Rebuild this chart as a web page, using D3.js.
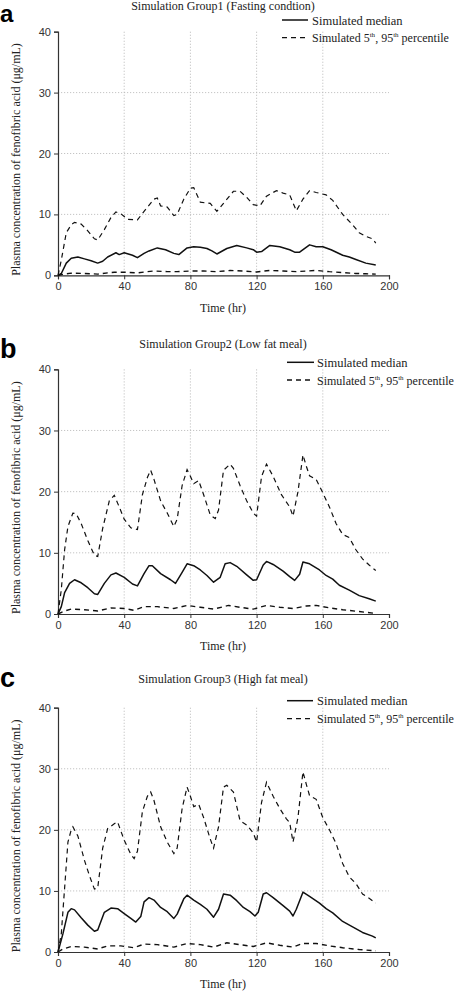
<!DOCTYPE html>
<html><head><meta charset="utf-8">
<script src="https://cdn.jsdelivr.net/npm/d3@7"></script>
<style>
html,body{margin:0;padding:0;background:#fff;}
svg{display:block;}
</style></head>
<body>
<svg id="chart" width="457" height="992"></svg>
<script>
// ---------- DATA ----------
const panelLabels = ["a", "b", "c"];
const panelTitles = [
  "Simulation Group1 (Fasting condtion)",
  "Simulation Group2 (Low fat meal)",
  "Simulation Group3 (High fat meal)"
];
const xTicks = [0, 40, 80, 120, 160, 200];
const yTicks = [0, 10, 20, 30, 40];
const xLabel = "Time (hr)";
const yLabel = "Plasma concentration of fenofibric acid (\u03bcg/mL)";
const legendMedian = "Simulated median";

// Group 1 (fasting) — [time hr, concentration]
const g1Median = [[0,0],[2,0.3],[5,2.0],[8,2.8],[12,3.0],[16,2.7],[20,2.4],[24,2.0],[27,2.3],[30,3.0],[35,3.7],[37,3.4],[40,3.7],[45,3.3],[48,2.9],[52,3.6],[55,4.0],[60,4.5],[65,4.2],[70,3.6],[73,3.4],[78,4.5],[82,4.7],[86,4.6],[90,4.4],[93,4.0],[96,3.5],[102,4.4],[108,4.9],[114,4.5],[118,4.2],[120,3.8],[123,3.9],[128,4.9],[134,4.7],[140,4.2],[143,3.8],[146,3.8],[152,5.0],[156,4.7],[160,4.7],[165,4.2],[172,3.3],[176,3.0],[180,2.6],[186,2.0],[192,1.7]];
const g1P95 = [[0,0],[2,2.5],[5,7.0],[8,8.3],[10,8.7],[14,8.4],[18,7.3],[22,6.0],[24,5.8],[28,7.5],[32,9.5],[35,10.4],[38,10.1],[42,9.2],[48,9.1],[52,10.5],[58,12.5],[60,12.7],[62,11.4],[66,11.2],[70,9.8],[72,10.0],[76,12.5],[80,14.3],[82,14.4],[86,12.0],[92,11.8],[96,10.5],[100,11.8],[106,13.8],[110,13.8],[114,12.8],[118,11.6],[122,11.4],[126,13.0],[132,13.9],[136,13.5],[140,13.2],[144,10.6],[148,12.5],[152,13.9],[156,13.6],[162,13.2],[166,12.3],[172,10.0],[178,8.3],[182,7.0],[186,6.4],[190,6.0],[192,5.3]];
const g1P5 = [[0,0],[4,0.2],[8,0.35],[16,0.3],[24,0.2],[30,0.4],[34,0.5],[40,0.5],[48,0.4],[54,0.6],[58,0.7],[66,0.6],[72,0.6],[80,0.7],[88,0.7],[96,0.6],[104,0.8],[112,0.7],[120,0.55],[128,0.8],[136,0.7],[144,0.6],[150,0.7],[156,0.8],[164,0.6],[172,0.45],[180,0.3],[186,0.25],[192,0.2]];

// Group 2 (low fat meal)
const g2Median = [[0,0],[2,1.2],[4,3.5],[7,5.0],[10,5.6],[14,5.1],[18,4.3],[22,3.3],[24,3.2],[28,5.0],[32,6.4],[35,6.7],[40,6.0],[45,4.9],[48,4.6],[52,6.6],[55,7.9],[57,7.9],[62,6.6],[68,5.6],[71,5.0],[75,6.8],[78,8.2],[82,7.9],[86,7.2],[90,6.3],[94,5.2],[98,6.0],[101,8.2],[104,8.4],[108,7.8],[114,6.4],[118,5.5],[120,5.6],[124,8.0],[126,8.6],[130,8.1],[136,7.0],[140,6.1],[143,5.5],[146,6.5],[148,8.5],[152,8.2],[158,7.2],[162,6.3],[166,5.7],[170,4.7],[176,3.9],[182,3.0],[188,2.5],[192,2.1]];
const g2P95 = [[0,0],[2,4.0],[4,10.5],[6,14.3],[9,16.5],[11,16.4],[14,14.8],[18,12.0],[22,9.6],[24,9.4],[27,14.0],[31,18.5],[34,19.4],[37,17.5],[40,15.5],[44,14.1],[48,13.8],[51,19.5],[54,22.3],[56,23.5],[58,22.0],[62,18.5],[66,16.5],[70,14.3],[72,15.5],[75,21.0],[78,23.6],[80,22.5],[82,21.3],[85,21.8],[88,19.5],[92,16.2],[95,15.6],[97,17.0],[100,23.5],[104,24.5],[106,23.8],[110,21.0],[114,18.5],[118,16.5],[120,16.0],[123,22.5],[126,24.5],[130,22.5],[135,19.5],[140,17.5],[142,16.0],[145,20.0],[148,26.0],[150,24.2],[152,22.6],[156,22.0],[160,19.8],[164,17.5],[168,14.8],[172,13.0],[176,12.5],[180,10.5],[184,9.0],[188,8.0],[192,7.1]];
const g2P5 = [[0,0],[4,0.5],[8,0.8],[16,0.7],[24,0.5],[32,1.0],[40,0.9],[46,0.6],[52,1.2],[60,1.2],[70,0.9],[78,1.4],[86,1.1],[94,0.8],[103,1.4],[110,1.1],[118,0.8],[126,1.4],[134,1.1],[142,0.9],[150,1.3],[156,1.4],[164,1.0],[172,0.7],[182,0.4],[192,0.1]];

// Group 3 (high fat meal)
const g3Median = [[0,0],[3,3.0],[6,6.5],[8,7.1],[10,6.9],[14,5.6],[18,4.4],[22,3.4],[24,3.6],[28,6.5],[32,7.2],[36,7.1],[40,6.3],[44,5.5],[47,4.9],[50,5.8],[52,8.2],[55,8.9],[58,8.5],[62,7.3],[66,6.6],[70,5.5],[72,6.2],[76,8.7],[78,9.3],[82,8.5],[86,7.8],[90,7.0],[94,5.7],[97,7.0],[100,9.5],[104,9.3],[108,8.4],[112,7.3],[116,6.6],[119,5.9],[121,6.5],[124,9.5],[126,9.7],[130,8.9],[136,7.6],[140,6.7],[142,5.9],[144,7.0],[148,9.8],[152,9.1],[158,8.0],[162,7.1],[166,6.4],[172,5.0],[178,4.1],[184,3.2],[190,2.6],[192,2.3]];
const g3P95 = [[0,0],[2,3.0],[4,10.5],[6,18.0],[8,20.0],[9,20.5],[12,19.0],[16,15.0],[19,12.5],[22,10.3],[24,10.5],[27,17.0],[30,20.2],[34,21.0],[36,21.3],[40,18.3],[44,16.0],[46,15.3],[48,16.5],[51,23.0],[54,25.5],[56,26.2],[58,24.8],[62,20.5],[66,18.0],[70,16.1],[72,17.0],[75,23.5],[78,27.0],[80,25.5],[82,23.8],[85,24.2],[88,22.0],[92,18.5],[94,17.0],[97,20.5],[100,27.0],[102,27.3],[106,26.2],[110,21.5],[114,20.8],[118,19.5],[120,18.0],[123,24.5],[126,27.8],[130,25.5],[134,23.5],[138,21.8],[140,21.2],[142,18.0],[145,22.0],[148,29.5],[150,27.5],[152,25.6],[156,25.0],[160,22.0],[164,20.0],[168,17.8],[172,14.5],[176,12.3],[180,11.2],[184,9.5],[188,8.8],[192,8.0]];
const g3P5 = [[0,0],[3,0.5],[8,0.9],[16,0.8],[24,0.5],[30,1.0],[38,1.0],[46,0.7],[52,1.3],[60,1.2],[70,0.8],[78,1.4],[86,1.2],[94,0.8],[102,1.5],[110,1.2],[118,0.9],[126,1.5],[134,1.1],[142,0.8],[148,1.4],[156,1.4],[164,1.0],[172,0.7],[182,0.4],[192,0.2]];

const groups = [
  {median: g1Median, p95: g1P95, p5: g1P5},
  {median: g2Median, p95: g2P95, p5: g2P5},
  {median: g3Median, p95: g3P95, p5: g3P5}
];

// ---------- LAYOUT ----------
const layouts = [
  {top: 31.7, bottom: 275.3, titleY: 10, timeY: 312, lab: 22, labSize: 24, leg1: 20, leg2: 37.7, legX0: 282, legX1: 308, legT: 312},
  {top: 369.3, bottom: 614, titleY: 348, timeY: 650, lab: 358, labSize: 27, leg1: 362.3, leg2: 380, legX0: 287, legX1: 314, legT: 317},
  {top: 707.7, bottom: 952, titleY: 683, timeY: 988, lab: 687, labSize: 27, leg1: 700.7, leg2: 718.7, legX0: 287, legX1: 313, legT: 317}
];
const left = 58, right = 389;
const serif = "'Liberation Serif','Times New Roman',serif";
const sans = "'Liberation Sans',Arial,sans-serif";
const ink = "#111";

const svg = d3.select("#chart");
const x = d3.scaleLinear().domain([0, 200]).range([left, right]);

groups.forEach((g, i) => {
  const L = layouts[i];
  const y = d3.scaleLinear().domain([0, 40]).range([L.bottom, L.top]);
  const p = svg.append("g");

  // grid
  p.append("g").selectAll("line").data(xTicks.filter(t => t > 0 && t < 200)).join("line")
    .attr("x1", d => x(d)).attr("x2", d => x(d)).attr("y1", y(40)).attr("y2", y(0))
    .attr("stroke", "#b5b5b5").attr("stroke-width", 0.8).attr("stroke-dasharray", "1.2,1.8");
  p.append("g").selectAll("line").data(yTicks.filter(t => t > 0 && t < 40)).join("line")
    .attr("x1", x(0)).attr("x2", x(200)).attr("y1", d => y(d)).attr("y2", d => y(d))
    .attr("stroke", "#b5b5b5").attr("stroke-width", 0.8).attr("stroke-dasharray", "1.2,1.8");

  // axes
  const ya = p.append("g").attr("transform", `translate(${left},0)`)
    .call(d3.axisLeft(y).tickValues(yTicks).tickSize(4).tickPadding(3));
  const xa = p.append("g").attr("transform", `translate(0,${L.bottom})`)
    .call(d3.axisBottom(x).tickValues(xTicks).tickSize(4).tickPadding(3));
  [ya, xa].forEach(a => {
    a.select(".domain").attr("stroke", "#333").attr("stroke-width", 1.2);
    a.selectAll(".tick line").attr("stroke", "#333");
    a.selectAll("text").attr("font-family", sans).attr("font-size", 11).attr("fill", "#333");
  });

  // lines
  const line = d3.line().x(d => x(d[0])).y(d => y(d[1]));
  p.append("path").datum(g.p95).attr("d", line).attr("fill", "none")
    .attr("stroke", ink).attr("stroke-width", 1.2).attr("stroke-dasharray", "5,4");
  p.append("path").datum(g.p5).attr("d", line).attr("fill", "none")
    .attr("stroke", ink).attr("stroke-width", 1.4).attr("stroke-dasharray", "5,4");
  p.append("path").datum(g.median).attr("d", line).attr("fill", "none")
    .attr("stroke", ink).attr("stroke-width", 1.5).attr("stroke-linejoin", "round");

  // panel label
  p.append("text").attr("x", 0).attr("y", L.lab).text(panelLabels[i])
    .attr("font-family", sans).attr("font-weight", "bold").attr("font-size", L.labSize).attr("fill", "#000");
  // title
  p.append("text").attr("x", 223).attr("y", L.titleY).attr("text-anchor", "middle")
    .attr("font-family", serif).attr("font-size", 12).attr("fill", "#222").text(panelTitles[i]);
  // x label
  p.append("text").attr("x", 223).attr("y", L.timeY).attr("text-anchor", "middle")
    .attr("font-family", serif).attr("font-size", 12).attr("fill", "#222").text(xLabel);
  // y label
  const cy = (L.top + L.bottom) / 2 + 6;
  p.append("text").attr("transform", `translate(20,${cy}) rotate(-90)`).attr("text-anchor", "middle")
    .attr("font-family", serif).attr("font-size", 12).attr("fill", "#222").text(yLabel);

  // legend
  p.append("line").attr("x1", L.legX0).attr("x2", L.legX1).attr("y1", L.leg1).attr("y2", L.leg1)
    .attr("stroke", ink).attr("stroke-width", 1.5);
  p.append("text").attr("x", L.legT).attr("y", L.leg1 + 4.5).attr("font-family", serif)
    .attr("font-size", 12.5).attr("fill", "#222").text(legendMedian);
  p.append("line").attr("x1", L.legX0).attr("x2", L.legX1).attr("y1", L.leg2).attr("y2", L.leg2)
    .attr("stroke", ink).attr("stroke-width", 1.3).attr("stroke-dasharray", "5,4");
  const t2 = p.append("text").attr("x", L.legT).attr("y", L.leg2 + 4.5).attr("font-family", serif)
    .attr("font-size", 12).attr("fill", "#222");
  t2.append("tspan").text("Simulated 5");
  t2.append("tspan").attr("font-size", 7).attr("dy", -5).text("th");
  t2.append("tspan").attr("dy", 5).text(", 95");
  t2.append("tspan").attr("font-size", 7).attr("dy", -5).text("th");
  t2.append("tspan").attr("dy", 5).text(" percentile");
});
</script>
</body></html>
